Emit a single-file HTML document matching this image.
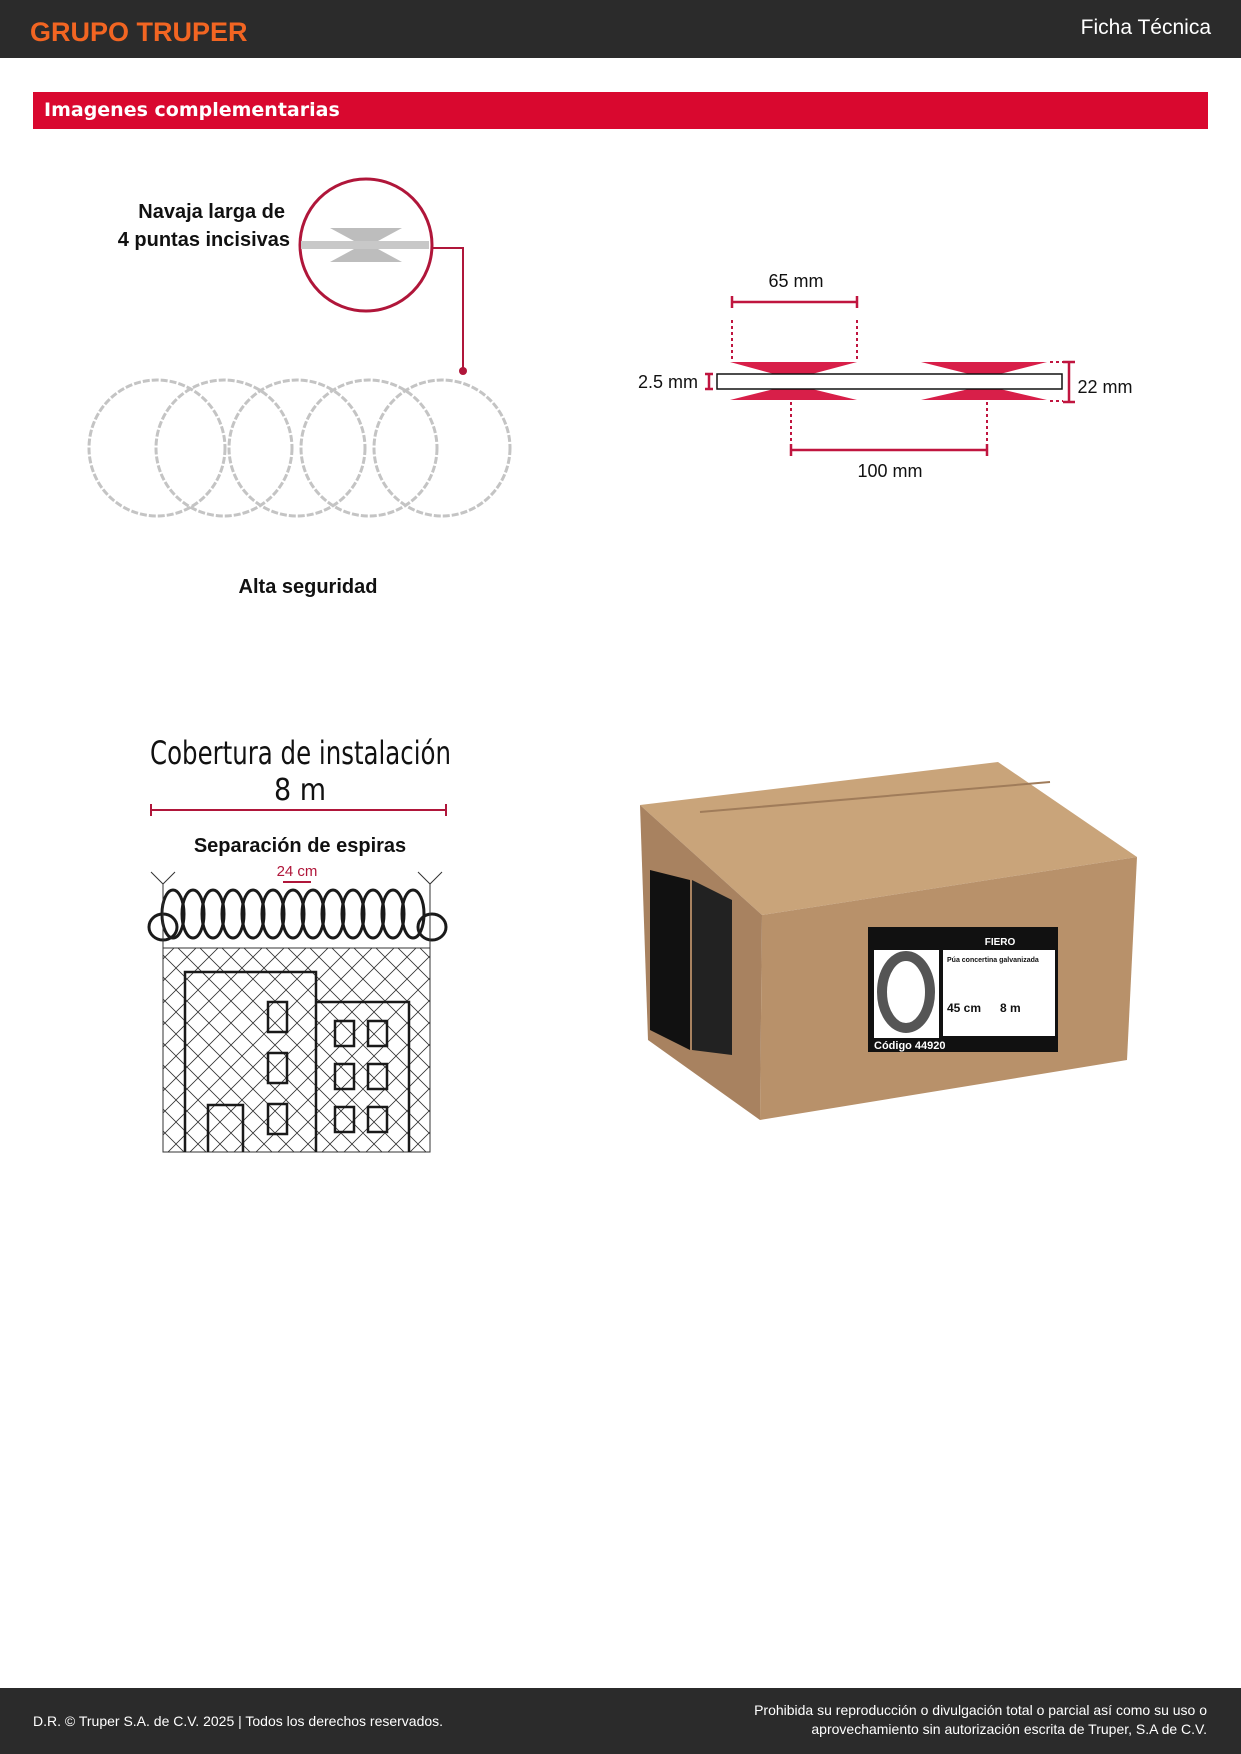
<!DOCTYPE html>
<html><head><meta charset="utf-8"><style>
body{margin:0;width:1241px;height:1754px;position:relative;background:#fff;font-family:"Liberation Sans","DejaVu Sans",sans-serif;overflow:hidden}
.t{position:absolute;white-space:nowrap}
</style></head><body>
<div style="position:absolute;left:0;top:0;width:1241px;height:58px;background:#2b2b2b"></div>
<div class="t" style="left:30px;top:17px;color:#f26522;font-weight:bold;font-size:27px;letter-spacing:0px">GRUPO TRUPER</div>
<div class="t" style="right:30px;top:16px;color:#fff;font-size:21px">Ficha Técnica</div>
<div style="position:absolute;left:33px;top:92px;width:1175px;height:37px;background:#d9082f"></div>
<div class="t" style="left:44px;top:99px;color:#fff;font-weight:bold;font-size:19px;font-family:'DejaVu Sans',sans-serif">Imagenes complementarias</div>

<svg width="1241" height="1754" style="position:absolute;left:0;top:0" font-family="Liberation Sans, sans-serif">
<!-- zoom circle -->
<circle cx="366" cy="245" r="66" fill="#fff" stroke="#b0163a" stroke-width="3"/>
<rect x="301" y="241" width="128" height="8" fill="#c8c8c8"/>
<polygon points="330,228 402,228 378,241 354,241" fill="#bdbdbd"/>
<polygon points="330,262 402,262 378,249 354,249" fill="#bdbdbd"/>
<polyline points="432,248 463,248 463,371" fill="none" stroke="#b0163a" stroke-width="2"/>
<circle cx="463" cy="371" r="4" fill="#b0163a"/>
<text x="285" y="218" font-size="20" text-anchor="end" font-weight="bold" fill="#111">Navaja larga de</text>
<text x="290" y="246" font-size="20" text-anchor="end" font-weight="bold" fill="#111">4 puntas incisivas</text>
<g fill="none" stroke="#c4c4c4" stroke-width="3" stroke-dasharray="7 2">
<circle cx="157" cy="448" r="68"/><circle cx="224" cy="448" r="68"/><circle cx="297" cy="448" r="68"/><circle cx="369" cy="448" r="68"/><circle cx="442" cy="448" r="68"/>
</g>
<text x="308" y="593" font-size="20" text-anchor="middle" font-weight="bold" fill="#111">Alta seguridad</text>

<!-- dimension -->
<g fill="#d81f49">
<polygon points="730,362 857,362 812,374 774,374"/><polygon points="730,400 857,400 812,389 774,389"/>
<polygon points="921,362 1047,362 1000,374 969,374"/><polygon points="921,400 1047,400 1000,389 969,389"/>
</g>
<rect x="717" y="374" width="345" height="15" fill="none" stroke="#111" stroke-width="1.5"/>
<g stroke="#c0153f" stroke-width="2.5" fill="none">
<path d="M732,302H857M732,296V308M857,296V308"/>
<path d="M791,450H987M791,444V456M987,444V456"/>
<path d="M1069,362V402M1063,362H1075M1063,402H1075"/>
<path d="M709,374V389M705,374H713M705,389H713"/>
</g>
<g stroke="#c0153f" stroke-width="2" stroke-dasharray="3 3">
<path d="M732,320V360M857,320V360M791,402V446M987,402V446M1050,362H1063M1050,401H1063"/>
</g>
<text x="796" y="287" font-size="18" text-anchor="middle" fill="#111">65 mm</text>
<text x="890" y="477" font-size="18" text-anchor="middle" fill="#111">100 mm</text>
<text x="668" y="388" font-size="18" text-anchor="middle" fill="#111">2.5 mm</text>
<text x="1105" y="393" font-size="18" text-anchor="middle" fill="#111">22 mm</text>

<!-- coverage -->
<text x="150" y="764" font-size="32" textLength="301" lengthAdjust="spacingAndGlyphs" fill="#111" font-family="DejaVu Sans Condensed, Liberation Sans Narrow, sans-serif">Cobertura de instalación</text>
<text x="300" y="800" font-size="30" text-anchor="middle" fill="#111" font-family="DejaVu Sans Condensed, sans-serif">8 m</text>
<path d="M151,810H446M151,804V816M446,804V816" stroke="#b0163a" stroke-width="2"/>
<text x="300" y="852" font-size="20" text-anchor="middle" font-weight="bold" fill="#111">Separación de espiras</text>
<text x="297" y="876" font-size="15" text-anchor="middle" fill="#b0163a">24 cm</text>
<path d="M283,882H311" stroke="#b0163a" stroke-width="2"/>
<g fill="none" stroke="#1a1a1a" stroke-width="3">
<ellipse cx="163" cy="927" rx="14" ry="13"/><ellipse cx="432" cy="927" rx="14" ry="13"/>
<ellipse cx="173" cy="914" rx="11" ry="24"/><ellipse cx="193" cy="914" rx="11" ry="24"/><ellipse cx="213" cy="914" rx="11" ry="24"/><ellipse cx="233" cy="914" rx="11" ry="24"/><ellipse cx="253" cy="914" rx="11" ry="24"/><ellipse cx="273" cy="914" rx="11" ry="24"/><ellipse cx="293" cy="914" rx="11" ry="24"/><ellipse cx="313" cy="914" rx="11" ry="24"/><ellipse cx="333" cy="914" rx="11" ry="24"/><ellipse cx="353" cy="914" rx="11" ry="24"/><ellipse cx="373" cy="914" rx="11" ry="24"/><ellipse cx="393" cy="914" rx="11" ry="24"/><ellipse cx="413" cy="914" rx="11" ry="24"/>
</g>
<path d="M151,872L163,884L175,872M418,872L430,884L442,872M163,884V948M430,884V948" stroke="#333" stroke-width="1" fill="none"/>
<defs><pattern id="mesh" width="22" height="22" patternUnits="userSpaceOnUse"><path d="M0,0L22,22M22,0L0,22" stroke="#333" stroke-width="0.8"/></pattern></defs>
<rect x="163" y="948" width="267" height="204" fill="url(#mesh)" stroke="#333" stroke-width="1"/>
<g fill="none" stroke="#1a1a1a" stroke-width="2.5">
<path d="M185,1152V972H316V1152"/><path d="M316,1002H409V1152"/>
<rect x="268" y="1002" width="19" height="30"/><rect x="268" y="1053" width="19" height="30"/><rect x="268" y="1104" width="19" height="30"/>
<path d="M208,1152V1105H243V1152"/>
<rect x="335" y="1021" width="19" height="25"/><rect x="368" y="1021" width="19" height="25"/>
<rect x="335" y="1064" width="19" height="25"/><rect x="368" y="1064" width="19" height="25"/>
<rect x="335" y="1107" width="19" height="25"/><rect x="368" y="1107" width="19" height="25"/>
</g>

<!-- box -->
<polygon points="640,805 998,762 1137,857 762,915" fill="#c9a47a"/>
<polygon points="762,915 1137,857 1127,1060 760,1120" fill="#b8916a"/>
<polygon points="640,805 762,915 760,1120 648,1040" fill="#a88260"/>
<path d="M700,812L1050,782" stroke="#a07c5a" stroke-width="2"/>
<rect x="868" y="927" width="190" height="125" fill="#111"/>
<rect x="874" y="950" width="65" height="88" fill="#fff"/>
<ellipse cx="906" cy="992" rx="24" ry="36" fill="none" stroke="#555" stroke-width="10"/>
<rect x="943" y="950" width="112" height="86" fill="#fff"/>
<text x="1000" y="945" font-size="10" font-weight="bold" fill="#fff" text-anchor="middle">FIERO</text>
<text x="947" y="962" font-size="7" font-weight="bold" fill="#111">Púa concertina galvanizada</text>
<text x="947" y="1012" font-size="12" font-weight="bold" fill="#111">45 cm</text>
<text x="1000" y="1012" font-size="12" font-weight="bold" fill="#111">8 m</text>
<text x="874" y="1049" font-size="11" font-weight="bold" fill="#fff">Código 44920</text>
<polygon points="650,870 690,880 690,1050 650,1030" fill="#111"/>
<polygon points="692,880 732,900 732,1055 692,1050" fill="#222"/>
</svg>

<div style="position:absolute;left:0;top:1688px;width:1241px;height:66px;background:#2b2b2b"></div>
<div class="t" style="left:33px;top:1713px;color:#fff;font-size:14px">D.R. © Truper S.A. de C.V. 2025 | Todos los derechos reservados.</div>
<div class="t" style="right:34px;top:1701px;color:#fff;font-size:14px;text-align:right;line-height:19px">Prohibida su reproducción o divulgación total o parcial así como su uso o<br>aprovechamiento sin autorización escrita de Truper, S.A de C.V.</div>
</body></html>
